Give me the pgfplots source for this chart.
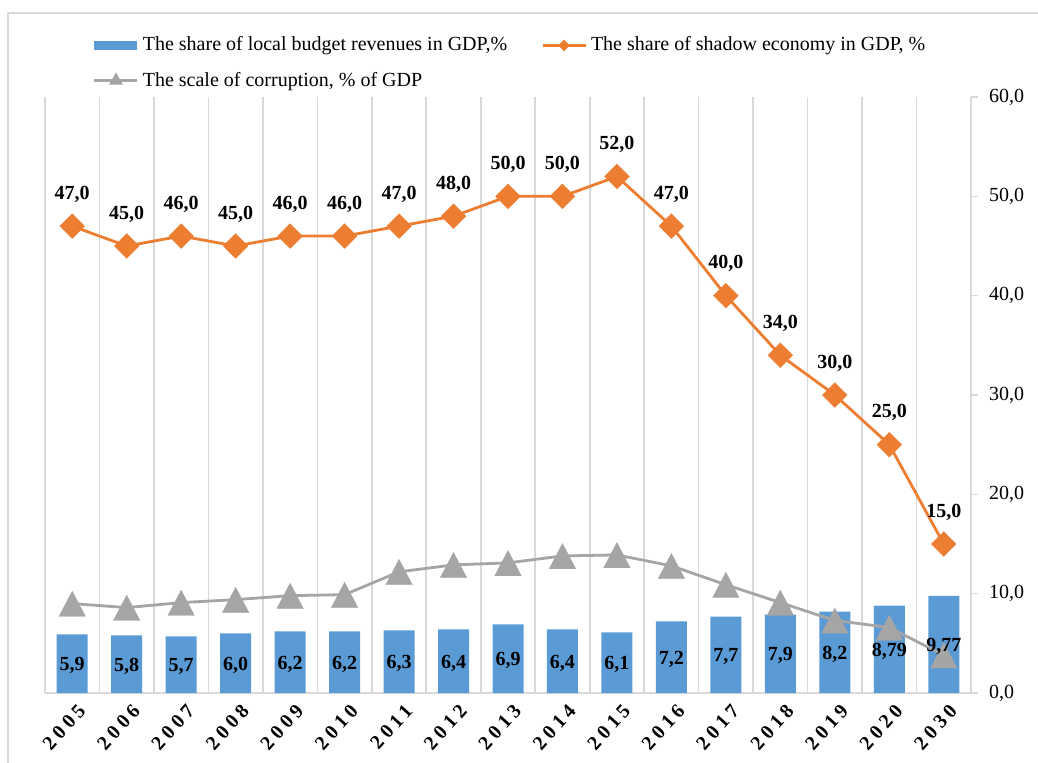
\documentclass[border=0pt]{standalone}
\usepackage{fontspec}
\setmainfont{Liberation Serif}
\newfontfamily\spacedserif[LetterSpace=22]{Liberation Serif}
\usepackage{pgfplots}
\pgfplotsset{compat=1.18}
\usepackage{pgfplotstable}
\definecolor{cblue}{HTML}{5B9BD5}
\definecolor{corange}{HTML}{ED7D31}
\definecolor{cgray}{HTML}{A5A5A5}
\definecolor{cgrid}{HTML}{D9D9D9}

\pgfplotsset{
  barleg/.style={legend image code/.code={\fill[cblue] (0pt,-2.25pt) rectangle (21.5pt,2.25pt);}},
  orangeleg/.style={legend image code/.code={%
    \draw[corange, line width=1.4pt] (0pt,0pt) -- (21.5pt,0pt);
    \fill[corange] (10.75pt,0pt) +(0pt,1.9pt) -- +(1.9pt,0pt) -- +(0pt,-1.9pt) -- +(-1.9pt,0pt) -- cycle;}},
  grayleg/.style={legend image code/.code={%
    \draw[cgray, line width=1.4pt] (0pt,0pt) -- (21.5pt,0pt);
    \fill[cgray] (10.75pt,0pt) +(0pt,2.6pt) -- +(2.3pt,-1.4pt) -- +(-2.3pt,-1.4pt) -- cycle;}},
}

\pgfplotstableread{
x y lab
0 5.9 5,9
1 5.8 5,8
2 5.7 5,7
3 6.0 6,0
4 6.2 6,2
5 6.2 6,2
6 6.3 6,3
7 6.4 6,4
8 6.9 6,9
9 6.4 6,4
10 6.1 6,1
11 7.2 7,2
12 7.7 7,7
13 7.9 7,9
14 8.2 8,2
15 8.79 8,79
16 9.77 9,77
}\budget

\pgfplotstableread{
x y
0 47
1 45
2 46
3 45
4 46
5 46
6 47
7 48
8 50
9 50
10 52
11 47
12 40
13 34
14 30
15 25
16 15
}\shadow

\pgfplotstableread{
x y
0 9.0
1 8.6
2 9.1
3 9.4
4 9.8
5 9.9
6 12.2
7 12.9
8 13.1
9 13.8
10 13.9
11 12.8
12 10.9
13 9.1
14 7.3
15 6.6
16 3.8
}\corrupt

\begin{document}
\begin{tikzpicture}
\path[use as bounding box] (-22.5pt,-34.5pt) rectangle (496.5pt,346.5pt);
\draw[cgrid, line width=0.8pt] (-18.5pt,-40pt) -- (-18.5pt,340pt) -- (530pt,340pt);
\begin{axis}[
  scale only axis,
  width=463pt, height=298pt,
  xmin=-0.5, xmax=16.5, ymin=0, ymax=60,
  axis y line*=right, axis x line*=bottom,
  axis line style={draw=cgrid, line width=0.8pt},
  xtick={0,...,16},
  xticklabels={2005,2006,2007,2008,2009,2010,2011,2012,2013,2014,2015,2016,2017,2018,2019,2020,2030},
  xticklabel style={font=\spacedserif\bfseries, rotate=48, anchor=east, yshift=-6pt, xshift=4pt},
  xtick style={draw=none},
  minor xtick={-0.5,0.5,...,15.5},
  xminorgrids=true,
  minor grid style={draw=cgrid, line width=0.8pt},
  minor tick length=0pt,
  ytick={0,10,...,60},
  ytick style={draw=cgrid, line width=0.8pt},
  tick align=outside,
  major tick length=3.5pt,
  yticklabel style={/pgf/number format/.cd, use comma, fixed, fixed zerofill, precision=1, assume math mode=true},
  yticklabel shift=2pt,
  legend columns=2,
  legend cell align=left,
  legend style={draw=none, fill=none, at={(0.045,1.115)}, anchor=north west,
    row sep=5pt, font=\normalsize,
    /tikz/every even column/.append style={column sep=15pt}},
]
\addplot[ybar, bar width=15.5pt, bar shift=0pt, fill=cblue, draw=none, barleg]
  table[x=x,y=y] {\budget};
\addlegendentry{The share of local budget revenues in GDP,\%}

\addplot[corange, line width=1.4pt, mark=square*, mark size=4.4pt,
  mark options={rotate=45, fill=corange, draw=corange, line width=0.1pt},
  nodes near coords, point meta=y,
  every node near coord/.append style={font=\bfseries, text=black, anchor=center, yshift=16pt,
    /pgf/number format/.cd, use comma, fixed, fixed zerofill, precision=1, assume math mode=true},
  orangeleg]
  table[x=x,y=y] {\shadow};
\addlegendentry{The share of shadow economy in GDP, \%}

\addplot[cgray, line width=1.4pt, mark=triangle*, mark size=7.7pt,
  mark options={fill=cgray, draw=cgray, line width=0.1pt, yscale=1.1, yshift=-2pt},
  grayleg]
  table[x=x,y=y] {\corrupt};
\addlegendentry{The scale of corruption, \% of GDP}

\addplot[ybar, bar width=15.5pt, bar shift=0pt, fill=none, draw=none, forget plot,
  visualization depends on={y \as \rawy},
  nodes near coords, point meta=explicit symbolic,
  every node near coord/.append style={font=\bfseries, text=black, anchor=center, yshift=-\rawy*2.48333pt-1pt}]
  table[x=x,y=y,meta=lab] {\budget};
\end{axis}
\end{tikzpicture}
\end{document}
